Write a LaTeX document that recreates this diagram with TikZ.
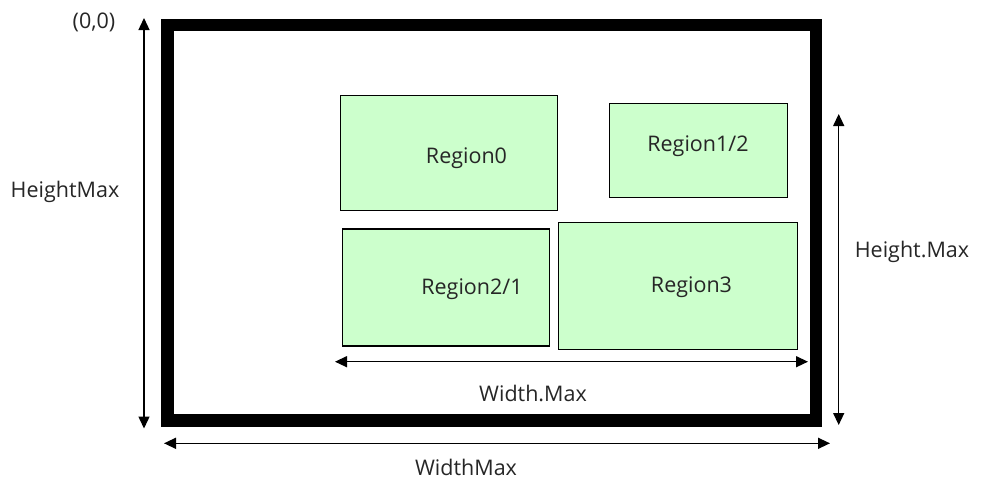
\documentclass[tikz,border=0pt]{standalone}
\usepackage{fontspec}
\setmainfont{Open Sans}
\usetikzlibrary{arrows.meta}
\definecolor{regfill}{HTML}{CCFFCC}
\begin{document}
\begin{tikzpicture}[x=1pt,y=-1pt,
  region/.style={draw=black,line width=1.1pt,fill=regfill,inner sep=0pt},
  lbl/.style={font=\fontsize{21.5}{24}\selectfont,text=black!85,inner sep=0pt},
  dim/.style={line width=1.4pt,{Triangle[length=12pt,width=11pt]}-{Triangle[length=12pt,width=11pt]}},
  frame/.style={draw=black,line width=12.5pt}]
\useasboundingbox (0,0) rectangle (990,483);
% outer frame
\node[frame,minimum width=648.5pt,minimum height=395.5pt,inner sep=0pt] (frm) at (491.75,222.75) {};
% regions
\node[region,minimum width=217pt,minimum height=115.7pt] (r0) at (449.2,152.9) {};
\node[region,minimum width=178pt,minimum height=94pt] (r1) at (698.3,150.3) {};
\node[region,minimum width=207.3pt,minimum height=117pt] (r2) at (445.7,287.5) {};
\node[region,minimum width=239pt,minimum height=126.3pt] (r3) at (677.8,285.9) {};
\node[lbl] (t0) at (466.5,158) {Region0};
\node[lbl] (t1) at (698,146) {Region1/2};
\node[lbl] (t2) at (472,289) {Region2/1};
\node[lbl] (t3) at (691.5,287) {Region3};
% dimension arrows
\coordinate (hl1) at (144,18);
\coordinate (hl2) at (144,428.5);
\coordinate (wb1) at (164,443.3);
\coordinate (wb2) at (830,443.3);
\coordinate (hr1) at (838.7,114);
\coordinate (hr2) at (838.7,425);
\coordinate (wm1) at (335,361.7);
\coordinate (wm2) at (808,361.7);
\draw[dim] (hl1) -- (hl2);
\draw[dim] (wb1) -- (wb2);
\draw[dim] (hr1) -- (hr2);
\draw[dim] (wm1) -- (wm2);
% labels
\node[lbl] (o) at (94,22) {(0,0)};
\node[lbl] (hm) at (65,192) {HeightMax};
\node[lbl] (hdm) at (912,252) {Height.Max};
\node[lbl] (wdm) at (533,393) {Width.Max};
\node[lbl] (wm) at (466,467) {WidthMax};
\end{tikzpicture}
\end{document}
